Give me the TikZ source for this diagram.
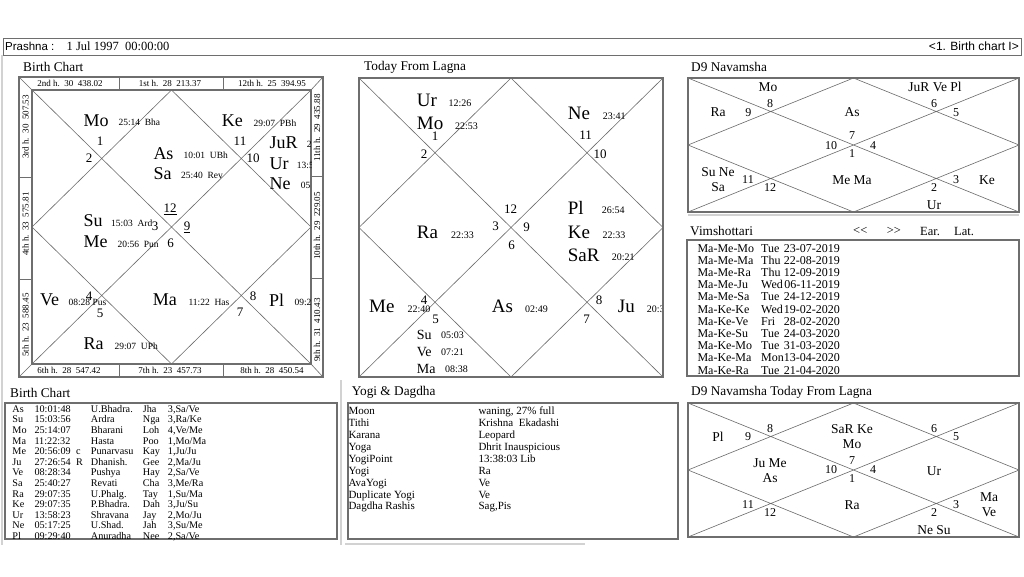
\documentclass[tikz,border=0pt]{standalone}
\usepackage{fontspec}
\setmainfont{Liberation Serif}
\newfontfamily\uisans{Liberation Sans}
\usetikzlibrary{positioning}
\definecolor{framegray}{HTML}{6E6E6E}
\definecolor{chartgray}{HTML}{6A6A6A}
\definecolor{panelgray}{HTML}{D2D2D2}

\begin{document}
\begin{tikzpicture}[x=1pt, y=-1pt, every node/.style={inner sep=0pt}]
  \tikzset{
    chartframe/.style={draw=framegray, line width=1.7pt},
    chartline/.style={draw=chartgray, line width=0.6pt},
    boxframe/.style={draw=framegray, line width=1.2pt},
    panelline/.style={draw=panelgray, line width=1.5pt},
    paneltitle/.style={anchor=west, font=\fontsize{13.3}{14}\selectfont},
    graha/.style={anchor=west, font=\fontsize{18}{18}\selectfont},
    grahab/.style={anchor=west, font=\fontsize{19}{19}\selectfont},
    grahac/.style={anchor=west, font=\fontsize{14}{14}\selectfont},
    degtxt/.style={anchor=west, font=\fontsize{9.5}{10}\selectfont},
    degtxtb/.style={anchor=west, font=\fontsize{10}{10}\selectfont},
    bhava/.style={font=\fontsize{13}{13}\selectfont},
    housestrip/.style={font=\fontsize{9}{9}\selectfont},
    d9graha/.style={font=\fontsize{13.5}{14}\selectfont},
    d9bhava/.style={font=\fontsize{12}{12}\selectfont},
    tabcell/.style={anchor=base west, font=\fontsize{10.2}{10}\selectfont},
    yogicell/.style={anchor=base west, font=\fontsize{11}{11}\selectfont},
    dasacell/.style={anchor=base west, font=\fontsize{12}{12}\selectfont},
    navbtn/.style={anchor=west, font=\fontsize{12.5}{13}\selectfont}
  }
  % page
  \fill[white] (0,0) rectangle (1024,576);

  % header bar
  \draw[draw=framegray, line width=0.9pt] (3,38) rectangle (1021,55);
  \node[anchor=west, font=\uisans\fontsize{11.5}{12}\selectfont] (prashna) at (5,46.5) {Prashna :};
  \node[anchor=west, font=\fontsize{12.5}{13}\selectfont] (pdate) at (66.5,46.5) {1 Jul 1997\ \ 00:00:00};
  \node[anchor=east, font=\uisans\fontsize{12}{12}\selectfont] (psel) at (1019,46.5) {<1. Birth chart I>};

  % panel edges
  \draw[panelline] (2,55) -- (2,545);
  \draw[panelline] (341,380) -- (341,545);
  \draw[panelline] (688,215) -- (1019,215);
  \draw[panelline] (345,544) -- (585,544);

  % ---- Birth Chart ----
  \node[paneltitle] (bctitle) at (23,67) {Birth Chart};
  \coordinate (bcNW) at (32,90);    \coordinate (bcNE) at (311,90);
  \coordinate (bcSE) at (311,364);  \coordinate (bcSW) at (32,364);
  \coordinate (bcN) at (171.5,90);  \coordinate (bcE) at (311,227);
  \coordinate (bcS) at (171.5,364); \coordinate (bcW) at (32,227);
  \draw[chartline] (bcNW) -- (bcSE) (bcNE) -- (bcSW)
    (bcN) -- (bcE) -- (bcS) -- (bcW) -- cycle;
  \draw[chartline] (19,77) -- (bcNW) (323,77) -- (bcNE)
    (323,377) -- (bcSE) (19,377) -- (bcSW);
  \draw[chartframe] (19,77) rectangle (323,377);
  \draw[chartframe] (bcNW) rectangle (bcSE);
  \draw[draw=framegray, line width=0.9pt]
    (119,77) -- (119,90) (223,77) -- (223,90)
    (119,364) -- (119,377) (223,364) -- (223,377)
    (19,177) -- (32,177) (19,279) -- (32,279)
    (311,176) -- (323,176) (311,278) -- (323,278);
  \node[housestrip] (h2) at (70,83.5) {2nd h.\ \ 30\ \ 438.02};
  \node[housestrip] (h1) at (170,83.5) {1st h.\ \ 28\ \ 213.37};
  \node[housestrip] (h12) at (272,83.5) {12th h.\ \ 25\ \ 394.95};
  \node[housestrip] (h6) at (69,370.5) {6th h.\ \ 28\ \ 547.42};
  \node[housestrip] (h7) at (170,370.5) {7th h.\ \ 23\ \ 457.73};
  \node[housestrip] (h8) at (272,370.5) {8th h.\ \ 28\ \ 450.54};
  \node[housestrip, rotate=90] (h3) at (25.5,127) {3rd h.\ \ 30\ \ 507.53};
  \node[housestrip, rotate=90] (h4) at (25.5,224) {4th h.\ \ 33\ \ 575.81};
  \node[housestrip, rotate=90] (h5) at (25.5,325) {5th h.\ \ 23\ \ 588.45};
  \node[housestrip, rotate=90] (h11) at (317,128) {11th h.\ \ 29\ \ 435.88};
  \node[housestrip, rotate=90] (h10) at (317,226) {10th h.\ \ 29\ \ 229.05};
  \node[housestrip, rotate=90] (h9) at (317,330) {9th h.\ \ 31\ \ 410.43};
  \begin{scope}
    \clip (bcNW) rectangle (bcSE);
    \node[graha] (bcMo) at (83.3,120.7) {Mo};
    \node[degtxt] (bcMoD) at (118.3,122.7) {25:14\ \ Bha};
    \node[bhava] (bc1) at (100,141) {1};
    \node[bhava] (bc2) at (89,158) {2};
    \node[graha] (bcAs) at (153.3,153.3) {As};
    \node[degtxt] (bcAsD) at (183.3,155) {10:01\ \ UBh};
    \node[graha] (bcSa) at (153.3,173.3) {Sa};
    \node[degtxt] (bcSaD) at (181,175) {25:40\ \ Rev};
    \node[graha] (bcKe) at (221.7,121) {Ke};
    \node[degtxt] (bcKeD) at (253.3,123) {29:07\ \ PBh};
    \node[bhava] (bc11) at (240,141) {11};
    \node[bhava] (bc10) at (253,158) {10};
    \node[graha] (bcJu) at (269.3,142.3) {JuR};
    \node[degtxt] (bcJuD) at (306.7,144) {2};
    \node[graha] (bcUr) at (269.3,163.3) {Ur};
    \node[degtxt] (bcUrD) at (296.7,165) {13:5};
    \node[graha] (bcNe) at (269.3,184) {Ne};
    \node[degtxt] (bcNeD) at (300.7,185) {05};
    \node[bhava] (bc12) at (170,209) {\underline{12}};
    \node[bhava] (bc9) at (187,227) {\underline{9}};
    \node[bhava] (bc3) at (155,226) {3};
    \node[bhava] (bc6) at (170.7,243) {6};
    \node[graha] (bcSu) at (83.3,220.7) {Su};
    \node[degtxt] (bcSuD) at (111,223) {15:03\ \ Ard};
    \node[graha] (bcMe) at (83.3,241.7) {Me};
    \node[degtxt] (bcMeD) at (117.3,244) {20:56\ \ Pun};
    \node[graha] (bcVe) at (40,300) {Ve};
    \node[degtxt] (bcVeD) at (68.3,302) {08:28 Pus};
    \node[bhava] (bc4) at (89,296.7) {4};
    \node[bhava] (bc5) at (100,313) {5};
    \node[graha] (bcMa) at (152.7,300) {Ma};
    \node[degtxt] (bcMaD) at (188.3,302) {11:22\ \ Has};
    \node[bhava] (bc8) at (253,296) {8};
    \node[bhava] (bc7) at (240,312) {7};
    \node[graha] (bcPl) at (269,300) {Pl};
    \node[degtxt] (bcPlD) at (294.3,302) {09:2};
    \node[graha] (bcRa) at (83.3,344) {Ra};
    \node[degtxt] (bcRaD) at (114.3,346) {29:07\ \ UPh};
  \end{scope}

  % ---- Today From Lagna ----
  \node[paneltitle] (tltitle) at (364,67) {Today From Lagna};
  \coordinate (tlNW) at (359,78);   \coordinate (tlNE) at (663,78);
  \coordinate (tlSE) at (663,377);  \coordinate (tlSW) at (359,377);
  \coordinate (tlN) at (511,78);    \coordinate (tlE) at (663,227.5);
  \coordinate (tlS) at (511,377);   \coordinate (tlW) at (359,227.5);
  \draw[chartline] (tlNW) -- (tlSE) (tlNE) -- (tlSW)
    (tlN) -- (tlE) -- (tlS) -- (tlW) -- cycle;
  \begin{scope}
    \clip (tlNW) rectangle (tlSE);
    \node[grahab] (tlUr) at (416.7,100.7) {Ur};
    \node[degtxtb] (tlUrD) at (448.3,103.3) {12:26};
    \node[grahab] (tlMo) at (416.7,123.3) {Mo};
    \node[degtxtb] (tlMoD) at (455,126) {22:53};
    \node[bhava] (tl1) at (435,136) {1};
    \node[bhava] (tl2) at (424,154) {2};
    \node[grahab] (tlNe) at (567.7,113.3) {Ne};
    \node[degtxtb] (tlNeD) at (602.7,116) {23:41};
    \node[bhava] (tl11) at (585.7,135) {11};
    \node[bhava] (tl10) at (600,154) {10};
    \node[bhava] (tl12) at (510.7,209) {12};
    \node[grahab] (tlPl) at (567.7,208.3) {Pl};
    \node[degtxtb] (tlPlD) at (601.7,210) {26:54};
    \node[grahab] (tlRa) at (416.7,232.7) {Ra};
    \node[degtxtb] (tlRaD) at (451,235) {22:33};
    \node[bhava] (tl3) at (495.7,226.7) {3};
    \node[bhava] (tl9) at (526.7,227) {9};
    \node[bhava] (tl6) at (511.7,245.7) {6};
    \node[grahab] (tlKe) at (567.7,232.7) {Ke};
    \node[degtxtb] (tlKeD) at (602.3,235) {22:33};
    \node[grahab] (tlSa) at (567.7,255) {SaR};
    \node[degtxtb] (tlSaD) at (611.7,257) {20:21};
    \node[grahab] (tlMe) at (369,306.7) {Me};
    \node[degtxtb] (tlMeD) at (407.3,309.3) {22:40};
    \node[bhava] (tl4) at (424,300.7) {4};
    \node[bhava] (tl5) at (435.7,319) {5};
    \node[grahab] (tlAs) at (491.7,306.7) {As};
    \node[degtxtb] (tlAsD) at (525,309) {02:49};
    \node[bhava] (tl8) at (599,300.7) {8};
    \node[bhava] (tl7) at (586.7,319.7) {7};
    \node[grahab] (tlJu) at (617.7,306.7) {Ju};
    \node[degtxtb] (tlJuD) at (646.7,309) {20:3};
    \node[grahac] (tlSu) at (416.7,335) {Su};
    \node[degtxtb] (tlSuD) at (441,335) {05:03};
    \node[grahac] (tlVe) at (416.7,351.7) {Ve};
    \node[degtxtb] (tlVeD) at (441,352) {07:21};
    \node[grahac] (tlMa) at (416.7,369) {Ma};
    \node[degtxtb] (tlMaD) at (445,369) {08:38};
  \end{scope}
  \draw[chartframe] (tlNW) rectangle (tlSE);

  % ---- D9 Navamsha ----
  \node[paneltitle] (dntitle) at (691,67) {D9 Navamsha};
  \coordinate (dnNW) at (688,78);    \coordinate (dnNE) at (1019,78);
  \coordinate (dnSE) at (1019,212);  \coordinate (dnSW) at (688,212);
  \coordinate (dnN) at (853.5,78);   \coordinate (dnE) at (1019,145);
  \coordinate (dnS) at (853.5,212);  \coordinate (dnW) at (688,145);
  \draw[chartline] (dnNW) -- (dnSE) (dnNE) -- (dnSW)
    (dnN) -- (dnE) -- (dnS) -- (dnW) -- cycle;
  \draw[chartframe] (dnNW) rectangle (dnSE);
  \node[d9graha] (dnMo) at (768,87) {Mo};
  \node[d9graha] (dnJu) at (935,87) {JuR Ve Pl};
  \node[d9graha] (dnRa) at (718,112) {Ra};
  \node[d9bhava] (dn9) at (748.3,112.3) {9};
  \node[d9bhava] (dn8) at (770,104) {8};
  \node[d9graha] (dnAs) at (852,112) {As};
  \node[d9bhava] (dn6) at (934,104) {6};
  \node[d9bhava] (dn5) at (956,113) {5};
  \node[d9bhava] (dn7) at (852,136) {7};
  \node[d9bhava] (dn10) at (831,146) {10};
  \node[d9bhava] (dn4) at (873,146) {4};
  \node[d9bhava] (dn1) at (852,154) {1};
  \node[d9graha] (dnSu) at (718,172) {Su Ne};
  \node[d9graha, below=6pt of dnSu] (dnSa) {Sa};
  \node[d9bhava] (dn11) at (748,180) {11};
  \node[d9bhava] (dn12) at (770,188) {12};
  \node[d9graha] (dnMe) at (852,180) {Me Ma};
  \node[d9bhava] (dn2) at (934,188) {2};
  \node[d9bhava] (dn3) at (956,180) {3};
  \node[d9graha] (dnKe) at (987,180) {Ke};
  \node[d9graha] (dnUr) at (934,205) {Ur};

  % ---- Vimshottari ----
  \node[paneltitle] (vmtitle) at (690,231) {Vimshottari};
  \node[navbtn] (vmprev) at (853,231) {<{}<};
  \node[navbtn] (vmnext) at (886.7,231) {>{}>};
  \node[navbtn] (vmear) at (920,231) {Ear.};
  \node[navbtn] (vmlat) at (954,231) {Lat.};
  \draw[boxframe] (687,240) rectangle (1019,376);
  \foreach \dsa/\dy/\dt [count=\r from 0] in {
      Ma-Me-Mo/Tue/23-07-2019, Ma-Me-Ma/Thu/22-08-2019,
      Ma-Me-Ra/Thu/12-09-2019, Ma-Me-Ju/Wed/06-11-2019,
      Ma-Me-Sa/Tue/24-12-2019, Ma-Ke-Ke/Wed/19-02-2020,
      Ma-Ke-Ve/Fri/28-02-2020, Ma-Ke-Su/Tue/24-03-2020,
      Ma-Ke-Mo/Tue/31-03-2020, Ma-Ke-Ma/Mon/13-04-2020,
      Ma-Ke-Ra/Tue/21-04-2020} {
    \pgfmathsetmacro{\ry}{252.3+12.17*\r}
    \node[dasacell] (vmd\r) at (697.3,\ry) {\dsa};
    \node[dasacell] (vmw\r) at (761,\ry) {\dy};
    \node[dasacell, anchor=base east] (vmt\r) at (840,\ry) {\dt};
  }

  % ---- Birth Chart table ----
  \node[paneltitle] (bttitle) at (10,392.7) {Birth Chart};
  \draw[boxframe] (5,403) rectangle (337,539);
  \foreach \pl/\tm/\fl/\nk/\sy/\pn/\la/\lb [count=\r from 0] in {
      As/10:01:48//U.Bhadra./Jha/3/Sa/Ve,
      Su/15:03:56//Ardra/Nga/3/Ra/Ke,
      Mo/25:14:07//Bharani/Loh/4/Ve/Me,
      Ma/11:22:32//Hasta/Poo/1/Mo/Ma,
      Me/20:56:09/c/Punarvasu/Kay/1/Ju/Ju,
      Ju/27:26:54/R/Dhanish./Gee/2/Ma/Ju,
      Ve/08:28:34//Pushya/Hay/2/Sa/Ve,
      Sa/25:40:27//Revati/Cha/3/Me/Ra,
      Ra/29:07:35//U.Phalg./Tay/1/Su/Ma,
      Ke/29:07:35//P.Bhadra./Dah/3/Ju/Su,
      Ur/13:58:23//Shravana/Jay/2/Mo/Ju,
      Ne/05:17:25//U.Shad./Jah/3/Su/Me,
      Pl/09:29:40//Anuradha/Nee/2/Sa/Ve} {
    \pgfmathsetmacro{\ry}{412.2+10.6*\r}
    \node[tabcell] (btp\r) at (12.3,\ry) {\pl};
    \node[tabcell] (btt\r) at (34.3,\ry) {\tm};
    \node[tabcell] (btf\r) at (76,\ry) {\fl};
    \node[tabcell] (btn\r) at (90.7,\ry) {\nk};
    \node[tabcell] (bts\r) at (142.7,\ry) {\sy};
    \node[tabcell] (btd\r) at (167.7,\ry) {\pn,\la/\lb};
  }

  % ---- Yogi & Dagdha ----
  \node[paneltitle] (yotitle) at (351.7,392.7) {Yogi \& Dagdha};
  \draw[boxframe] (348,403) rectangle (678,539);
  \foreach \lab/\val [count=\r from 0] in {
      Moon/{waning, 27\% full}, Tithi/{Krishna\ \ Ekadashi},
      Karana/Leopard, Yoga/{Dhrit Inauspicious},
      YogiPoint/{13:38:03 Lib}, Yogi/Ra, AvaYogi/Ve,
      {Duplicate Yogi}/Ve, {Dagdha Rashis}/{Sag,Pis}} {
    \pgfmathsetmacro{\ry}{414.7+11.9*\r}
    \node[yogicell] (yol\r) at (348.3,\ry) {\lab};
    \node[yogicell] (yov\r) at (478.3,\ry) {\val};
  }

  % ---- D9 Navamsha Today From Lagna ----
  \node[paneltitle] (dttitle) at (691,392.7) {D9 Navamsha Today From Lagna};
  \coordinate (dtNW) at (688,403);   \coordinate (dtNE) at (1019,403);
  \coordinate (dtSE) at (1019,537);  \coordinate (dtSW) at (688,537);
  \coordinate (dtN) at (853.5,403);  \coordinate (dtE) at (1019,470);
  \coordinate (dtS) at (853.5,537);  \coordinate (dtW) at (688,470);
  \draw[chartline] (dtNW) -- (dtSE) (dtNE) -- (dtSW)
    (dtN) -- (dtE) -- (dtS) -- (dtW) -- cycle;
  \draw[chartframe] (dtNW) rectangle (dtSE);
  \node[d9graha] (dtPl) at (718,437) {Pl};
  \node[d9bhava] (dt9) at (748,437) {9};
  \node[d9bhava] (dt8) at (770,429) {8};
  \node[d9graha] (dtSa) at (852,429) {SaR Ke};
  \node[d9graha, below=6pt of dtSa] (dtMo) {Mo};
  \node[d9bhava] (dt6) at (934,429) {6};
  \node[d9bhava] (dt5) at (956,437) {5};
  \node[d9graha] (dtJu) at (770,463) {Ju Me};
  \node[d9graha, below=6pt of dtJu] (dtAs) {As};
  \node[d9bhava] (dt7) at (852,461) {7};
  \node[d9bhava] (dt10) at (831,470) {10};
  \node[d9bhava] (dt4) at (873,470) {4};
  \node[d9bhava] (dt1) at (852,479) {1};
  \node[d9graha] (dtUr) at (934,471) {Ur};
  \node[d9bhava] (dt11) at (748,505) {11};
  \node[d9bhava] (dt12) at (770,513) {12};
  \node[d9graha] (dtRa) at (852,505) {Ra};
  \node[d9graha] (dtMa) at (989,497) {Ma};
  \node[d9graha, below=6pt of dtMa] (dtVe) {Ve};
  \node[d9bhava] (dt2) at (934,513) {2};
  \node[d9bhava] (dt3) at (956,505) {3};
  \node[d9graha] (dtNe) at (934,530) {Ne Su};
\end{tikzpicture}
\end{document}
